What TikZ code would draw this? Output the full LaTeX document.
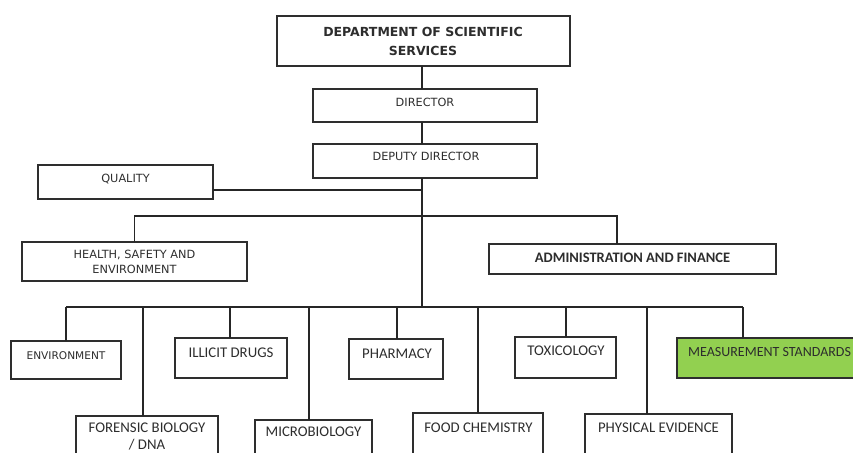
\documentclass[tikz,border=0pt]{standalone}
\usepackage{fontspec}
\setmainfont{Carlito}
\newfontfamily\tahoma{DejaVu Sans}
\definecolor{msgreen}{RGB}{146,208,80}
\definecolor{txt}{RGB}{45,45,45}
\begin{document}
\begin{tikzpicture}[x=1pt,y=-1pt,
  box/.style={draw=black!82, line width=1.3pt, anchor=north west, inner sep=0pt, outer sep=0pt},
  link/.style={draw=black!85, line width=1.3pt},
  tsmall/.style={font=\tahoma\fontsize{11.3}{14.5}\selectfont, text=txt, inner sep=0pt, anchor=base, align=center},
  tbig/.style={font=\tahoma\bfseries\fontsize{12.5}{19}\selectfont, text=txt, inner sep=0pt, anchor=base, align=center},
  tcal/.style={font=\fontsize{14.8}{17.5}\selectfont, text=txt, inner sep=0pt, anchor=base, align=center},
  tcalb/.style={font=\bfseries\fontsize{14.5}{17}\selectfont, text=txt, inner sep=0pt, anchor=base, align=center},
]
\useasboundingbox (0,0) rectangle (853,452);
\clip (0,0) rectangle (853,452);

% boxes
\node[box, minimum width=293, minimum height=50] (dept) at (277,16) {};
\node[box, minimum width=224, minimum height=33] (dir) at (313,89) {};
\node[box, minimum width=224, minimum height=34] (dep) at (313,144) {};
\node[box, minimum width=175, minimum height=34] (qual) at (38,165) {};
\node[box, minimum width=225, minimum height=39] (hse) at (22,242) {};
\node[box, minimum width=287, minimum height=30] (adm) at (489,244) {};
\node[box, minimum width=110, minimum height=38] (env) at (11,341) {};
\node[box, minimum width=112, minimum height=40] (ill) at (175,338) {};
\node[box, minimum width=94, minimum height=40] (pha) at (349,339) {};
\node[box, minimum width=101, minimum height=41] (tox) at (515,337) {};
\node[box, minimum width=190, minimum height=40, fill=msgreen] (mea) at (677,338) {};
\node[box, minimum width=142, minimum height=60] (for) at (76,416) {};
\node[box, minimum width=117, minimum height=60] (mic) at (255,420) {};
\node[box, minimum width=130, minimum height=60] (food) at (413,413) {};
\node[box, minimum width=147, minimum height=60] (phy) at (585,414) {};

% texts (multi-line nodes: base = last line's baseline)
\node[tbig] (tdept) at (423,55.5) {DEPARTMENT OF SCIENTIFIC\\SERVICES};
\node[tsmall] (tdir) at (425,106) {DIRECTOR};
\node[tsmall] (tdep) at (426,160) {DEPUTY DIRECTOR};
\node[tsmall] (tqual) at (125.5,182) {QUALITY};
\node[tsmall] (thse) at (134.5,273) {HEALTH, SAFETY AND\\ENVIRONMENT};
\node[tcalb] (tadm) at (632.5,262.7) {ADMINISTRATION AND FINANCE};
\node[tsmall, font=\tahoma\fontsize{10.6}{13}\selectfont] (tenv) at (66,359) {ENVIRONMENT};
\node[tcal] (till) at (231,357) {ILLICIT DRUGS};
\node[tcal] (tpha) at (397,358) {PHARMACY};
\node[tcal] (ttox) at (566,355.5) {TOXICOLOGY};
\node[tcal, font=\fontsize{14}{17}\selectfont, anchor=base west] (tmea) at (688,356) {MEASUREMENT STANDARDS};
\node[tcal, font=\fontsize{14.8}{16.5}\selectfont] (tfor) at (147,449) {FORENSIC BIOLOGY\\/ DNA};
\node[tcal] (tmic) at (313.5,436.5) {MICROBIOLOGY};
\node[tcal] (tfood) at (478.5,432) {FOOD CHEMISTRY};
\node[tcal] (tphy) at (658.5,432.5) {PHYSICAL EVIDENCE};

% helper coordinates
\coordinate (sp) at (422,0);
\coordinate (qy) at (0,190);
\coordinate (mb) at (0,216);
\coordinate (admx) at (617,0);
\coordinate (bb) at (0,307);
\coordinate (dEnv) at (66,307);
\coordinate (dFor) at (143,307);
\coordinate (dIll) at (230,307);
\coordinate (dMic) at (309,307);
\coordinate (dPha) at (397,307);
\coordinate (dFood) at (478,307);
\coordinate (dTox) at (566,307);
\coordinate (dPhy) at (647,307);
\coordinate (dMea) at (743,307);

% connectors
\draw[link] (dept.south -| sp) -- (dir.north -| sp);
\draw[link] (dir.south -| sp) -- (dep.north -| sp);
\draw[link] (dep.south -| sp) -- (sp |- bb);
\draw[link] (qual.east |- qy) -- (sp |- qy);
\draw[link] (hse.north) -- (hse.north |- mb) -- (admx |- mb) -- (admx |- adm.north);
\draw[link] (dEnv) -- (dMea);
\draw[link] (dEnv) -- (dEnv |- env.north);
\draw[link] (dFor) -- (dFor |- for.north);
\draw[link] (dIll) -- (dIll |- ill.north);
\draw[link] (dMic) -- (dMic |- mic.north);
\draw[link] (dPha) -- (dPha |- pha.north);
\draw[link] (dFood) -- (dFood |- food.north);
\draw[link] (dTox) -- (dTox |- tox.north);
\draw[link] (dPhy) -- (dPhy |- phy.north);
\draw[link] (dMea) -- (dMea |- mea.north);
\end{tikzpicture}
\end{document}
